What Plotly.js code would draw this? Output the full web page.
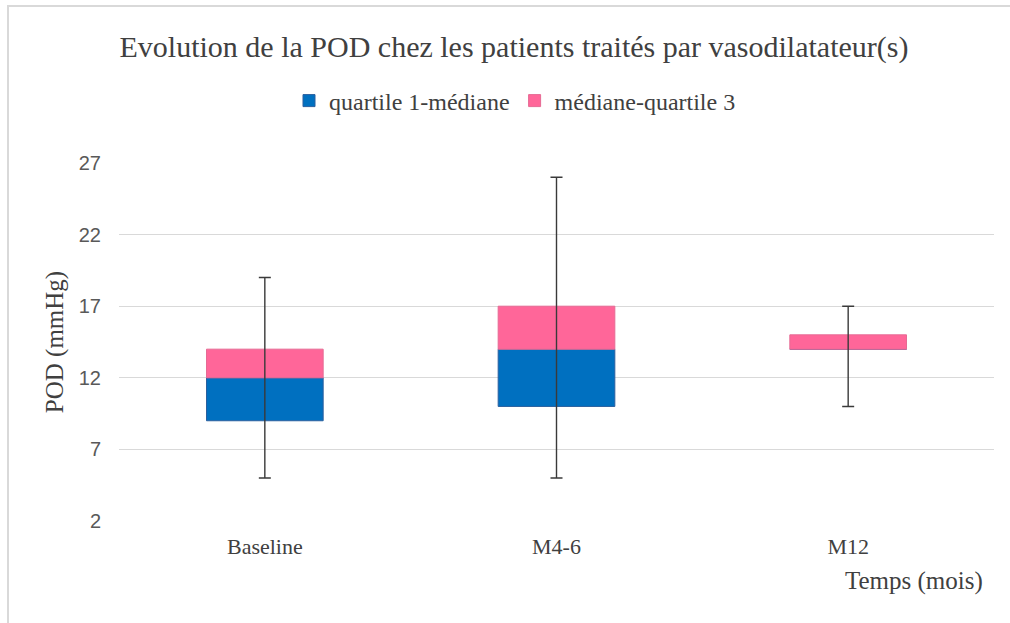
<!DOCTYPE html>
<html>
<head>
<meta charset="utf-8">
<script src="https://cdn.plot.ly/plotly-3.0.1.min.js"></script>
<style>html,body{margin:0;padding:0;background:#fff;}#chart{width:1010px;height:623px;}</style>
</head>
<body>
<div id="chart"></div>
<script>
const categories = ['Baseline', 'M4-6', 'M12'];
const q1 = [9, 10, 14];
const median = [12, 14, 14];
const q3 = [14, 17, 15];
const minVals = [5, 5, 10];
const maxVals = [19, 26, 17];
const yTicks = [2, 7, 12, 17, 22, 27];

const serif = '"Liberation Serif", "Times New Roman", serif';
const sans = '"Liberation Sans", Arial, sans-serif';

const lowerBox = {
  type: 'bar', name: 'quartile 1-médiane', x: categories,
  base: q1, y: median.map((m, i) => m - q1[i]),
  marker: {color: '#0070C0', line: {color: '#2A5F9E', width: 1}},
  width: 0.4, hoverinfo: 'skip'
};
const upperBox = {
  type: 'bar', name: 'médiane-quartile 3', x: categories,
  base: median, y: q3.map((v, i) => v - median[i]),
  marker: {color: '#FF6699', line: {color: '#E66A94', width: 1}},
  width: 0.4, hoverinfo: 'skip'
};
const whiskers = {
  type: 'scatter', mode: 'markers', x: categories, y: median,
  marker: {size: 1, opacity: 0}, showlegend: false, hoverinfo: 'skip',
  error_y: {type: 'data', symmetric: false,
    array: maxVals.map((v, i) => v - median[i]),
    arrayminus: median.map((m, i) => m - minVals[i]),
    color: '#3A3A3A', thickness: 1.4, width: 6}
};

const L = 119, R = 16, T = 163, B = 102;
const W = 1010 - L - R, H = 623 - T - B;
const px = v => (v - L) / W;
const py = v => (623 - B - v) / H;

const layout = {
  width: 1010, height: 623,
  margin: {l: L, r: R, t: T, b: B},
  paper_bgcolor: '#ffffff', plot_bgcolor: '#ffffff',
  barmode: 'overlay',
  showlegend: true,
  title: {text: 'Evolution de la POD chez les patients traités par vasodilatateur(s)',
    font: {family: serif, size: 30, color: '#404040'},
    x: 514 / 1010, xanchor: 'center', y: 1 - 46 / 623, yanchor: 'middle'},
  legend: {orientation: 'h', x: px(515), xanchor: 'center', y: py(101), yanchor: 'middle',
    font: {family: serif, size: 24, color: '#404040'}, traceorder: 'normal',
    itemwidth: 30, bgcolor: 'rgba(0,0,0,0)'},
  xaxis: {type: 'category', tickfont: {family: serif, size: 22, color: '#404040'},
    showgrid: false, zeroline: false, showline: false, ticks: '', ticklabelstandoff: 10,
    fixedrange: true},
  yaxis: {range: [2, 27], tickvals: yTicks, ticktext: yTicks.map(String),
    tickfont: {family: sans, size: 20, color: '#595959'},
    gridcolor: '#D9D9D9', gridwidth: 1, zeroline: false, showline: false, ticks: '',
    ticklabelstandoff: 17,
    title: {text: 'POD (mmHg)', font: {family: serif, size: 25, color: '#404040'}, standoff: 8},
    fixedrange: true},
  annotations: [{text: 'Temps (mois)', xref: 'paper', yref: 'paper', x: px(985), y: py(581),
    xanchor: 'right', yanchor: 'middle', showarrow: false,
    font: {family: serif, size: 25, color: '#404040'}}],
  shapes: [{type: 'rect', xref: 'paper', yref: 'paper', x0: px(8), x1: px(1030), y0: py(640), y1: py(6),
    line: {color: '#D9D9D9', width: 2}, fillcolor: 'rgba(0,0,0,0)', layer: 'below'}]
};

Plotly.newPlot('chart', [lowerBox, upperBox, whiskers], layout, {displayModeBar: false, staticPlot: true});
</script>
</body>
</html>
